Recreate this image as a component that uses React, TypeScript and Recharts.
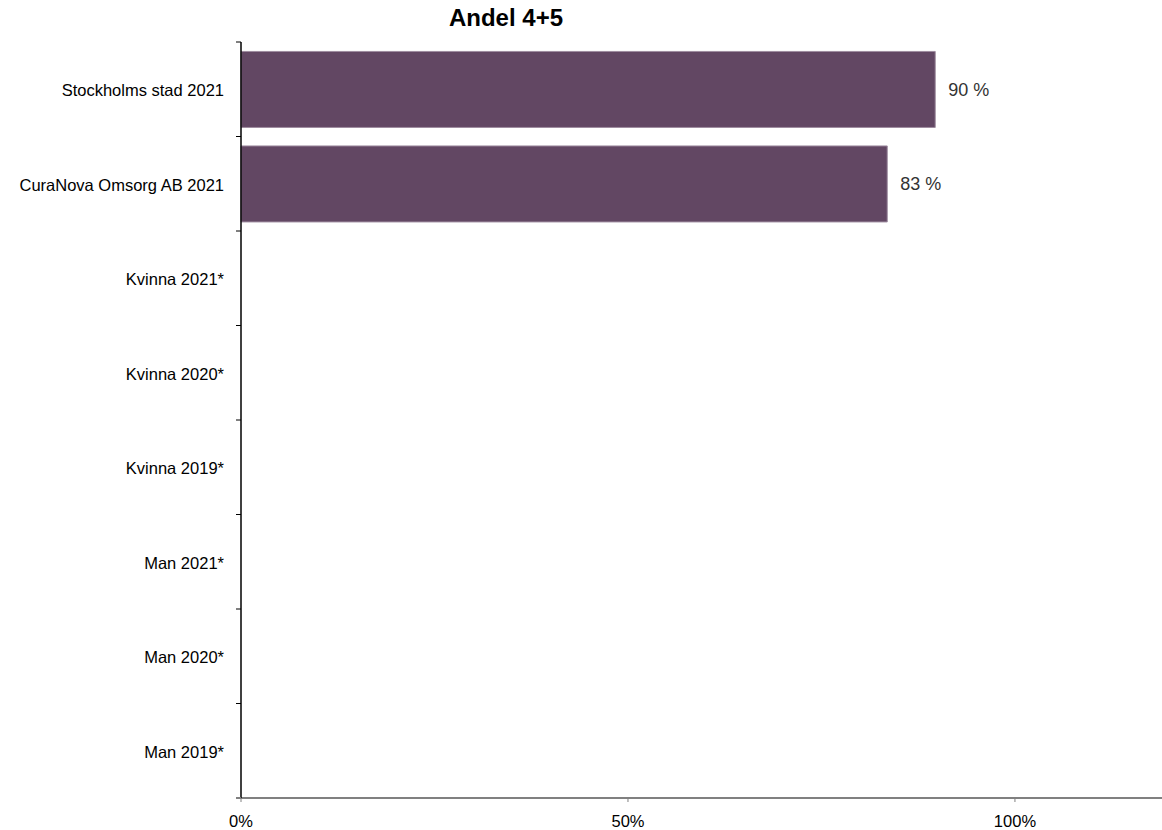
import React from "react";
import { BarChart, Bar, XAxis, YAxis, LabelList } from "recharts";

const categories = [
  "Stockholms stad 2021",
  "CuraNova Omsorg AB 2021",
  "Kvinna 2021*",
  "Kvinna 2020*",
  "Kvinna 2019*",
  "Man 2021*",
  "Man 2020*",
  "Man 2019*",
];
const values: (number | null)[] = [89.7, 83.5, null, null, null, null, null, null];
const labels: (string | null)[] = ["90 %", "83 %", null, null, null, null, null, null];
const xTicks = [0, 50, 100];
const title = "Andel 4+5";

const data = categories.map((c, i) => ({ name: c, value: values[i], label: labels[i] }));

const FONT = "'Liberation Sans', Arial, sans-serif";
const W = 1162;
const H = 830;
const M = { top: 42, right: 0, left: 0, bottom: 2 };
const Y_W = 241;
const X_H = 30;
const plotH = H - M.top - M.bottom - X_H;
const plotBottom = H - M.bottom - X_H;
const band = plotH / categories.length;

const YTick = (props: any) => {
  const { x, y, payload } = props;
  const axisX = x + 8;
  const top = y - band / 2;
  return (
    <g>
      <line x1={axisX - 5} x2={axisX} y1={top} y2={top} stroke="#000" strokeWidth={1} />
      <text
        x={axisX - 17}
        y={y + 1}
        textAnchor="end"
        dominantBaseline="central"
        fontFamily={FONT}
        fontSize={16.5}
        fill="#000"
      >
        {payload.value}
      </text>
    </g>
  );
};

const XTick = (props: any) => {
  const { x, payload } = props;
  if (!xTicks.includes(payload.value)) return <g />;
  return (
    <g>
      <line x1={x} x2={x} y1={plotBottom} y2={plotBottom + 4} stroke="#808080" strokeWidth={1} />
      <text
        x={x}
        y={plotBottom + 23}
        textAnchor="middle"
        dominantBaseline="central"
        fontFamily={FONT}
        fontSize={16.5}
        fill="#000"
      >
        {payload.value}%
      </text>
    </g>
  );
};

export default function App() {
  return (
    <div style={{ position: "absolute", left: 0, top: 0, width: W, height: H, background: "#fff", overflow: "hidden" }}>
      <svg
        width={W}
        height={H}
        style={{ position: "absolute", left: 0, top: 0, pointerEvents: "none" }}
      >
        <text
          x={506}
          y={17}
          textAnchor="middle"
          dominantBaseline="central"
          fontFamily={FONT}
          fontSize={24}
          fontWeight="bold"
          fill="#000"
        >
          {title}
        </text>
      </svg>
      <div style={{ position: "absolute", left: 0, top: 0 }}>
        <BarChart
          width={W + 10}
          height={H}
          data={data}
          layout="vertical"
          margin={{ ...M, right: 10 }}
          barCategoryGap="10%"
        >
          <XAxis
            type="number"
            domain={[0, 119]}
            ticks={xTicks}
            height={X_H}
            axisLine={{ stroke: "#808080", strokeWidth: 2 }}
            tickLine={false}
            tick={<XTick />}
            interval={0}
          />
          <YAxis
            type="category"
            dataKey="name"
            width={Y_W}
            axisLine={{ stroke: "#000", strokeWidth: 1.5 }}
            tickLine={false}
            tick={<YTick />}
            interval={0}
          />
          <Bar dataKey="value" fill="#624763" stroke="#9e8c9f" strokeWidth={1} isAnimationActive={false}>
            <LabelList
              dataKey="label"
              position="right"
              offset={13}
              fontFamily={FONT}
              fontSize={18}
              fill="#333"
            />
          </Bar>
        </BarChart>
      </div>
      <svg
        width={W}
        height={H}
        style={{ position: "absolute", left: 0, top: 0, pointerEvents: "none" }}
      >
        <line x1={236} x2={241} y1={plotBottom} y2={plotBottom} stroke="#808080" strokeWidth={2} />
      </svg>
    </div>
  );
}
